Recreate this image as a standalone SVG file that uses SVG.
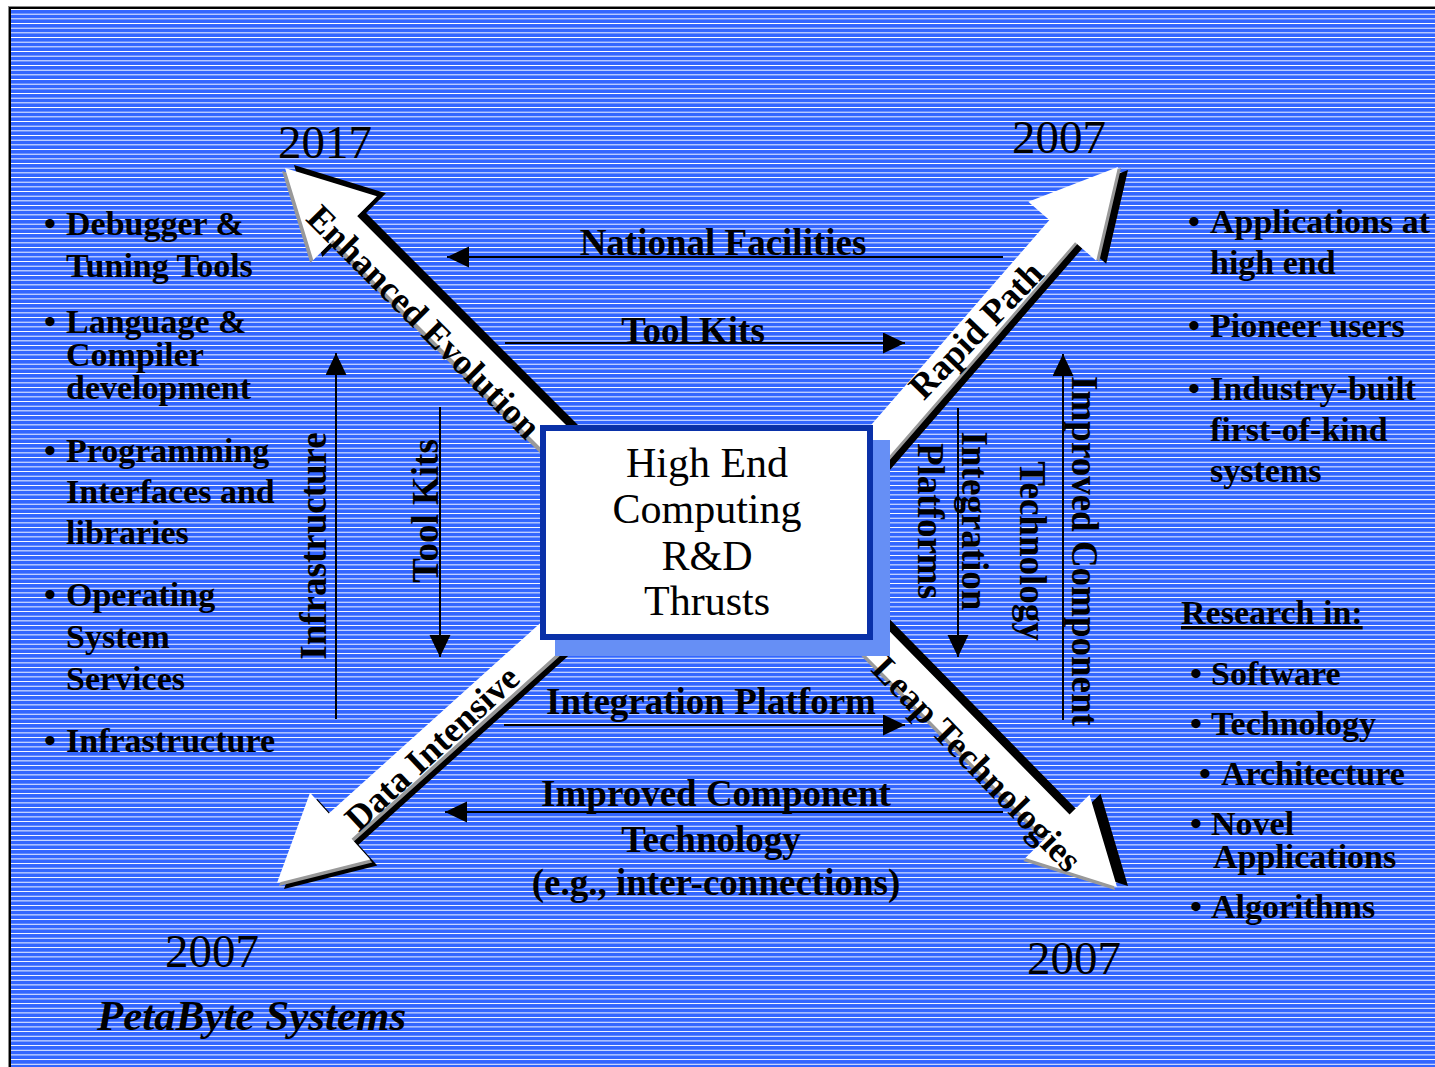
<svg xmlns="http://www.w3.org/2000/svg" xmlns:xlink="http://www.w3.org/1999/xlink" width="1435" height="1067" viewBox="0 0 1435 1067">
<style>
.b{font-family:"Liberation Serif","Times New Roman",serif;font-weight:bold;font-size:34px;fill:#000}
.lbl{font-family:"Liberation Serif","Times New Roman",serif;font-weight:bold;font-size:37px;fill:#000}
.arl{font-family:"Liberation Serif","Times New Roman",serif;font-weight:bold;font-size:36px;fill:#000}
.yr{font-family:"Liberation Serif","Times New Roman",serif;font-size:47px;fill:#000}
.ctr{font-family:"Liberation Serif","Times New Roman",serif;font-size:42px;fill:#000}
.ln{stroke:#000;stroke-width:2;fill:none}
</style>
<defs>
<pattern id="stripes" patternUnits="userSpaceOnUse" x="0" y="4.37" width="40" height="4.667">
<rect width="40" height="4.667" fill="#3366FF" shape-rendering="crispEdges"/>
<rect width="40" height="1.1" fill="#FFFFFF" shape-rendering="crispEdges"/>
</pattern>
<marker id="ah" markerUnits="userSpaceOnUse" markerWidth="23" markerHeight="22" refX="22" refY="10.5" orient="auto">
<path d="M0,0 L22,10.5 L0,21 z" fill="#000"/>
</marker>
<polygon id="bigArrow" points="0,0 85,-45 85,-17 420,-17 420,17 85,17 85,45"/>
</defs>

<rect x="0" y="0" width="1435" height="1067" fill="#FFFFFF"/>
<rect x="8" y="6" width="1427" height="1061" fill="#888888"/>
<rect x="9" y="7" width="1426" height="1060" fill="#000000"/>
<rect x="11" y="9" width="1424" height="1058" fill="url(#stripes)"/>

<g id="big-arrows">
<g id="arrow-enhanced-evolution">
<use xlink:href="#bigArrow" href="#bigArrow" fill="#000" transform="translate(294,165) rotate(45)"/>
<use xlink:href="#bigArrow" href="#bigArrow" fill="#999" transform="translate(282,171) rotate(45)"/>
<use xlink:href="#bigArrow" href="#bigArrow" fill="#FFF" transform="translate(285,168) rotate(45)"/>
<text class="arl" text-anchor="middle" y="12" transform="translate(424,322) rotate(45)">Enhanced Evolution</text>
</g>
<g id="arrow-rapid-path">
<use xlink:href="#bigArrow" href="#bigArrow" fill="#000" transform="translate(1128,170) rotate(131)"/>
<use xlink:href="#bigArrow" href="#bigArrow" fill="#999" transform="translate(1121,168) rotate(131)"/>
<use xlink:href="#bigArrow" href="#bigArrow" fill="#FFF" transform="translate(1118,167) rotate(131)"/>
<text class="arl" text-anchor="middle" y="12" transform="translate(976,330) rotate(-46)">Rapid Path</text>
</g>
<g id="arrow-data-intensive">
<use xlink:href="#bigArrow" href="#bigArrow" fill="#000" transform="translate(284,889) rotate(-42)"/>
<use xlink:href="#bigArrow" href="#bigArrow" fill="#999" transform="translate(279,886) rotate(-42)"/>
<use xlink:href="#bigArrow" href="#bigArrow" fill="#FFF" transform="translate(277,883) rotate(-42)"/>
<text class="arl" text-anchor="middle" y="12" transform="translate(432,748) rotate(-43)">Data Intensive</text>
</g>
<g id="arrow-leap-technologies">
<use xlink:href="#bigArrow" href="#bigArrow" fill="#000" transform="translate(1128,886) rotate(-134.5)"/>
<use xlink:href="#bigArrow" href="#bigArrow" fill="#999" transform="translate(1115,890) rotate(-134.5)"/>
<use xlink:href="#bigArrow" href="#bigArrow" fill="#FFF" transform="translate(1117,887) rotate(-134.5)"/>
<text class="arl" text-anchor="middle" y="12" transform="translate(977,764) rotate(46)">Leap Technologies</text>
</g>
</g>

<g id="center-box">
<rect x="555" y="440" width="335" height="216" fill="#668FF5"/>
<rect x="543" y="428" width="327" height="209" fill="#FFFFFF" stroke="#0A31A8" stroke-width="6"/>
<text class="ctr" text-anchor="middle" x="707" y="477">High End</text>
<text class="ctr" text-anchor="middle" x="707" y="523">Computing</text>
<text class="ctr" text-anchor="middle" x="707" y="570">R&amp;D</text>
<text class="ctr" text-anchor="middle" x="707" y="615">Thrusts</text>
</g>

<g id="connectors">
<line class="ln" x1="1003" y1="257" x2="447" y2="257" marker-end="url(#ah)"/>
<line class="ln" x1="505" y1="343" x2="905" y2="343" marker-end="url(#ah)"/>
<line class="ln" x1="504" y1="725" x2="905" y2="725" marker-end="url(#ah)"/>
<line class="ln" x1="1003" y1="812" x2="445" y2="812" marker-end="url(#ah)"/>
<line class="ln" x1="336" y1="719" x2="336" y2="353" marker-end="url(#ah)"/>
<line class="ln" x1="440" y1="407" x2="440" y2="657" marker-end="url(#ah)"/>
<line class="ln" x1="958" y1="408" x2="958" y2="657" marker-end="url(#ah)"/>
<line class="ln" x1="1063" y1="720" x2="1063" y2="354" marker-end="url(#ah)"/>
</g>

<g id="connector-labels">
<text class="lbl" text-anchor="middle" x="723" y="255">National Facilities</text>
<text class="lbl" text-anchor="middle" x="693" y="343">Tool Kits</text>
<text class="lbl" text-anchor="middle" x="711" y="714">Integration Platform</text>
<text class="lbl" text-anchor="middle" x="716" y="806">Improved Component</text>
<text class="lbl" text-anchor="middle" x="711" y="852">Technology</text>
<text class="lbl" text-anchor="middle" x="716" y="895">(e.g., inter-connections)</text>
<text class="lbl" text-anchor="middle" transform="translate(326,546) rotate(-90)">Infrastructure</text>
<text class="lbl" text-anchor="middle" transform="translate(438,511) rotate(-90)">Tool Kits</text>
<text class="lbl" text-anchor="middle" transform="translate(962,521) rotate(90)">Integration</text>
<text class="lbl" text-anchor="middle" transform="translate(918,521) rotate(90)">Platforms</text>
<text class="lbl" text-anchor="middle" transform="translate(1072,551) rotate(90)">Improved Component</text>
<text class="lbl" text-anchor="middle" transform="translate(1020,551) rotate(90)">Technology</text>
</g>

<g id="years">
<text class="yr" x="278" y="158">2017</text>
<text class="yr" x="1012" y="153">2007</text>
<text class="yr" x="165" y="967">2007</text>
<text class="yr" x="1027" y="974">2007</text>
</g>

<g id="left-list">
<text class="b" x="44" y="235">•</text><text class="b" x="66" y="235">Debugger &amp;</text>
<text class="b" x="66" y="277">Tuning Tools</text>
<text class="b" x="44" y="333">•</text><text class="b" x="66" y="333">Language &amp;</text>
<text class="b" x="66" y="366">Compiler</text>
<text class="b" x="66" y="399">development</text>
<text class="b" x="44" y="462">•</text><text class="b" x="66" y="462">Programming</text>
<text class="b" x="66" y="503">Interfaces and</text>
<text class="b" x="66" y="544">libraries</text>
<text class="b" x="44" y="606">•</text><text class="b" x="66" y="606">Operating</text>
<text class="b" x="66" y="648">System</text>
<text class="b" x="66" y="690">Services</text>
<text class="b" x="44" y="752">•</text><text class="b" x="66" y="752">Infrastructure</text>
</g>

<g id="right-list">
<text class="b" x="1188" y="233">•</text><text class="b" x="1210" y="233">Applications at</text>
<text class="b" x="1210" y="274">high end</text>
<text class="b" x="1188" y="337">•</text><text class="b" x="1210" y="337">Pioneer users</text>
<text class="b" x="1188" y="400">•</text><text class="b" x="1210" y="400">Industry-built</text>
<text class="b" x="1210" y="441">first-of-kind</text>
<text class="b" x="1210" y="482">systems</text>
<text class="b" x="1181" y="624" text-decoration="underline">Research in:</text>
<text class="b" x="1190" y="685">•</text><text class="b" x="1211" y="685">Software</text>
<text class="b" x="1190" y="735">•</text><text class="b" x="1211" y="735">Technology</text>
<text class="b" x="1199" y="785">•</text><text class="b" x="1221" y="785">Architecture</text>
<text class="b" x="1190" y="835">•</text><text class="b" x="1211" y="835">Novel</text>
<text class="b" x="1213" y="868">Applications</text>
<text class="b" x="1190" y="918">•</text><text class="b" x="1211" y="918">Algorithms</text>
</g>

<g id="petabyte">
<text x="97" y="1030" style="font-family:'Liberation Serif','Times New Roman',serif;font-weight:bold;font-style:italic;font-size:43px;fill:#000">PetaByte Systems</text>
</g>
</svg>
